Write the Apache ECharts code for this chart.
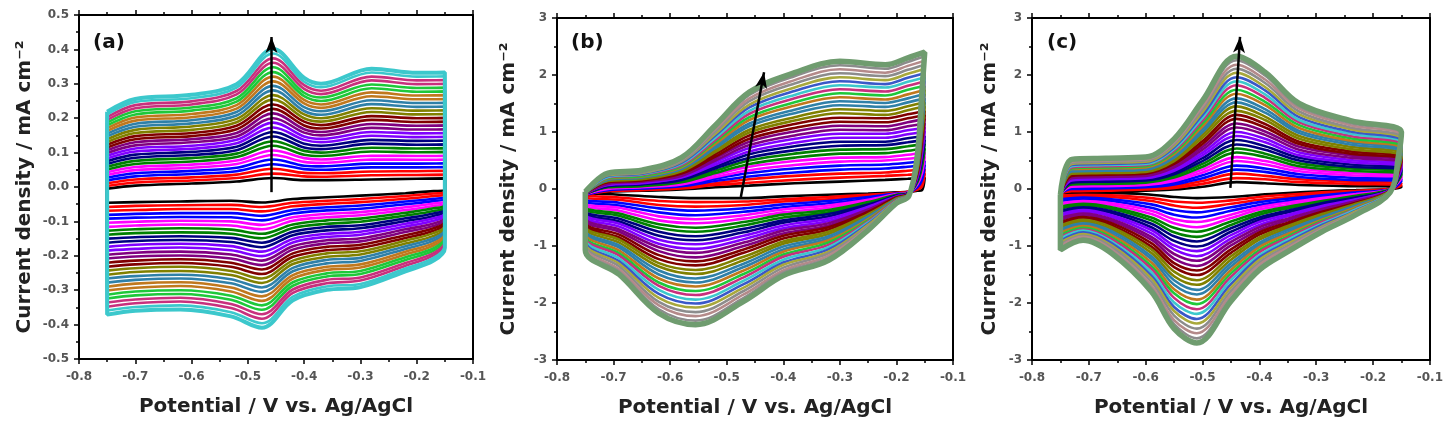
<!DOCTYPE html>
<html>
<head>
<meta charset="utf-8">
<title>CV scans</title>
<script src="https://cdn.jsdelivr.net/npm/echarts@6.0.0/dist/echarts.min.js"></script>
<style>
html, body { margin: 0; padding: 0; background: #fff; }
#chart { width: 1446px; height: 429px; }
</style>
</head>
<body>
<div id="chart"></div>
<script>
// potentials (V vs. Ag/AgCl) where the curves were read, forward and reverse sweep
// current density (mA cm-2): one inner array per potential, one value per scan (innermost -> outermost)

// ---- panel (a)
const aXUp = [-0.75, -0.70, -0.60, -0.52, -0.455, -0.40, -0.37, -0.28, -0.20, -0.15];
const aUp = [
  [-0.005,0.003,0.011,0.019,0.027,0.035,0.043,0.051,0.059,0.067,0.075,0.083,0.091,0.099,0.107,0.115,0.123,0.131,0.139,0.147,0.155,0.163,0.171,0.179,0.187,0.195,0.203,0.211,0.219],
  [0.004,0.013,0.022,0.031,0.040,0.049,0.058,0.067,0.076,0.085,0.094,0.103,0.112,0.121,0.130,0.139,0.148,0.157,0.166,0.175,0.184,0.193,0.202,0.211,0.220,0.229,0.238,0.247,0.256],
  [0.010,0.019,0.028,0.038,0.047,0.056,0.065,0.074,0.084,0.093,0.102,0.111,0.120,0.130,0.139,0.148,0.157,0.166,0.176,0.185,0.194,0.203,0.212,0.222,0.231,0.240,0.249,0.258,0.268],
  [0.016,0.026,0.036,0.046,0.056,0.067,0.077,0.087,0.097,0.107,0.117,0.127,0.137,0.147,0.157,0.168,0.178,0.188,0.198,0.208,0.218,0.228,0.238,0.248,0.258,0.269,0.279,0.289,0.299],
  [0.026,0.039,0.053,0.066,0.080,0.093,0.106,0.120,0.133,0.147,0.160,0.173,0.187,0.200,0.214,0.227,0.240,0.254,0.267,0.281,0.294,0.307,0.321,0.334,0.348,0.361,0.374,0.388,0.401],
  [0.020,0.031,0.041,0.052,0.062,0.073,0.084,0.094,0.105,0.115,0.126,0.137,0.147,0.158,0.168,0.179,0.190,0.200,0.211,0.221,0.232,0.243,0.253,0.264,0.274,0.285,0.296,0.306,0.317],
  [0.020,0.030,0.040,0.050,0.060,0.070,0.080,0.090,0.100,0.110,0.120,0.130,0.140,0.150,0.160,0.170,0.180,0.190,0.200,0.210,0.220,0.230,0.240,0.250,0.260,0.270,0.280,0.290,0.300],
  [0.022,0.034,0.045,0.057,0.068,0.080,0.091,0.103,0.114,0.126,0.137,0.149,0.160,0.172,0.183,0.195,0.206,0.218,0.229,0.241,0.252,0.264,0.275,0.287,0.298,0.310,0.321,0.333,0.344],
  [0.024,0.035,0.046,0.057,0.068,0.079,0.090,0.101,0.112,0.123,0.134,0.145,0.156,0.167,0.178,0.189,0.200,0.211,0.222,0.233,0.244,0.255,0.266,0.277,0.288,0.299,0.310,0.321,0.332],
  [0.025,0.036,0.047,0.058,0.069,0.080,0.091,0.102,0.113,0.124,0.135,0.146,0.157,0.168,0.179,0.190,0.201,0.212,0.223,0.234,0.245,0.256,0.267,0.278,0.289,0.300,0.311,0.322,0.333]
];
const aXDown = [-0.15, -0.17, -0.22, -0.30, -0.36, -0.42, -0.475, -0.53, -0.62, -0.70, -0.75];
const aDown = [
  [-0.009,-0.015,-0.021,-0.027,-0.033,-0.039,-0.045,-0.051,-0.057,-0.063,-0.069,-0.075,-0.081,-0.087,-0.093,-0.099,-0.105,-0.111,-0.117,-0.123,-0.129,-0.135,-0.141,-0.147,-0.153,-0.159,-0.165,-0.171,-0.177],
  [-0.012,-0.019,-0.026,-0.034,-0.041,-0.048,-0.055,-0.062,-0.070,-0.077,-0.084,-0.091,-0.098,-0.106,-0.113,-0.120,-0.127,-0.134,-0.142,-0.149,-0.156,-0.163,-0.170,-0.178,-0.185,-0.192,-0.199,-0.206,-0.214],
  [-0.018,-0.026,-0.034,-0.042,-0.050,-0.059,-0.067,-0.075,-0.083,-0.091,-0.099,-0.107,-0.115,-0.123,-0.131,-0.140,-0.148,-0.156,-0.164,-0.172,-0.180,-0.188,-0.196,-0.204,-0.212,-0.221,-0.229,-0.237,-0.245],
  [-0.025,-0.035,-0.044,-0.054,-0.063,-0.073,-0.082,-0.092,-0.101,-0.111,-0.120,-0.130,-0.139,-0.149,-0.158,-0.168,-0.177,-0.187,-0.196,-0.206,-0.215,-0.225,-0.234,-0.244,-0.253,-0.263,-0.272,-0.282,-0.291],
  [-0.030,-0.040,-0.049,-0.059,-0.068,-0.078,-0.088,-0.097,-0.107,-0.116,-0.126,-0.136,-0.145,-0.155,-0.164,-0.174,-0.184,-0.193,-0.203,-0.212,-0.222,-0.232,-0.241,-0.251,-0.260,-0.270,-0.280,-0.289,-0.299],
  [-0.035,-0.046,-0.056,-0.067,-0.077,-0.088,-0.098,-0.109,-0.119,-0.130,-0.140,-0.151,-0.161,-0.172,-0.182,-0.193,-0.203,-0.214,-0.224,-0.235,-0.245,-0.256,-0.266,-0.277,-0.287,-0.298,-0.308,-0.319,-0.329],
  [-0.045,-0.058,-0.071,-0.084,-0.097,-0.110,-0.123,-0.136,-0.149,-0.162,-0.175,-0.188,-0.201,-0.214,-0.227,-0.240,-0.253,-0.266,-0.279,-0.292,-0.305,-0.318,-0.331,-0.344,-0.357,-0.370,-0.383,-0.396,-0.409],
  [-0.040,-0.052,-0.064,-0.076,-0.088,-0.100,-0.112,-0.124,-0.136,-0.148,-0.160,-0.172,-0.184,-0.196,-0.208,-0.220,-0.232,-0.244,-0.256,-0.268,-0.280,-0.292,-0.304,-0.316,-0.328,-0.340,-0.352,-0.364,-0.376],
  [-0.042,-0.053,-0.064,-0.076,-0.087,-0.098,-0.109,-0.120,-0.132,-0.143,-0.154,-0.165,-0.176,-0.188,-0.199,-0.210,-0.221,-0.232,-0.244,-0.255,-0.266,-0.277,-0.288,-0.300,-0.311,-0.322,-0.333,-0.344,-0.356],
  [-0.044,-0.055,-0.067,-0.078,-0.089,-0.101,-0.112,-0.123,-0.134,-0.146,-0.157,-0.168,-0.180,-0.191,-0.202,-0.214,-0.225,-0.236,-0.247,-0.259,-0.270,-0.281,-0.293,-0.304,-0.315,-0.327,-0.338,-0.349,-0.360],
  [-0.046,-0.058,-0.069,-0.081,-0.092,-0.104,-0.116,-0.127,-0.139,-0.150,-0.162,-0.174,-0.185,-0.197,-0.208,-0.220,-0.232,-0.243,-0.255,-0.266,-0.278,-0.290,-0.301,-0.313,-0.324,-0.336,-0.348,-0.359,-0.371]
];
const aColors = ['black','red','red','blue','blue','magenta','magenta','green','green','navy','navy','violet','violet','purple','purple','wine','wine','olive','olive','teal','teal','orange','orange','lime','lime','pink','pink','cyan','cyan'];
const aArrow = [[-0.458, -0.015], [-0.458, 0.436]];

// ---- panel (b)
const bXUp = [-0.75, -0.71, -0.65, -0.58, -0.52, -0.46, -0.38, -0.30, -0.22, -0.18, -0.15];
const bUp = [
  [-0.10,-0.10,-0.10,-0.10,-0.09,-0.09,-0.09,-0.09,-0.09,-0.08,-0.08,-0.08,-0.08,-0.08,-0.08,-0.07,-0.07,-0.07,-0.07,-0.07,-0.07,-0.06,-0.06,-0.06,-0.06,-0.06,-0.06,-0.05,-0.05,-0.05,-0.05],
  [-0.05,-0.04,-0.03,-0.02,-0.01,0.00,0.02,0.03,0.04,0.05,0.06,0.07,0.08,0.09,0.10,0.12,0.13,0.14,0.15,0.16,0.17,0.18,0.19,0.20,0.21,0.23,0.24,0.25,0.26,0.27,0.28],
  [-0.03,-0.02,-0.01,0.01,0.02,0.03,0.04,0.05,0.07,0.08,0.09,0.10,0.11,0.13,0.14,0.15,0.16,0.17,0.19,0.20,0.21,0.22,0.23,0.25,0.26,0.27,0.28,0.29,0.31,0.32,0.33],
  [-0.01,0.01,0.03,0.05,0.06,0.08,0.10,0.12,0.14,0.16,0.18,0.20,0.21,0.23,0.25,0.27,0.29,0.31,0.33,0.35,0.36,0.38,0.40,0.42,0.44,0.46,0.48,0.49,0.51,0.53,0.55],
  [0.03,0.07,0.10,0.14,0.18,0.21,0.25,0.28,0.32,0.36,0.39,0.43,0.47,0.50,0.54,0.57,0.61,0.65,0.68,0.72,0.76,0.79,0.83,0.86,0.90,0.94,0.97,1.01,1.05,1.08,1.12],
  [0.06,0.11,0.17,0.22,0.28,0.33,0.39,0.44,0.50,0.55,0.61,0.66,0.72,0.77,0.83,0.88,0.94,0.99,1.04,1.10,1.15,1.21,1.26,1.32,1.37,1.43,1.48,1.54,1.59,1.65,1.70],
  [0.10,0.16,0.23,0.29,0.36,0.42,0.49,0.55,0.62,0.68,0.75,0.81,0.88,0.94,1.01,1.07,1.14,1.20,1.26,1.33,1.39,1.46,1.52,1.59,1.65,1.72,1.78,1.85,1.91,1.98,2.04],
  [0.13,0.20,0.27,0.34,0.41,0.48,0.55,0.62,0.69,0.76,0.83,0.90,0.97,1.04,1.11,1.18,1.25,1.33,1.40,1.47,1.54,1.61,1.68,1.75,1.82,1.89,1.96,2.03,2.10,2.17,2.24],
  [0.16,0.23,0.29,0.36,0.43,0.50,0.56,0.63,0.70,0.77,0.83,0.90,0.97,1.03,1.10,1.17,1.24,1.30,1.37,1.44,1.51,1.57,1.64,1.71,1.78,1.84,1.91,1.98,2.04,2.11,2.18],
  [0.18,0.25,0.32,0.39,0.46,0.53,0.60,0.67,0.75,0.82,0.89,0.96,1.03,1.10,1.17,1.24,1.31,1.38,1.45,1.52,1.59,1.66,1.74,1.81,1.88,1.95,2.02,2.09,2.16,2.23,2.30],
  [0.20,0.27,0.35,0.42,0.49,0.57,0.64,0.71,0.79,0.86,0.93,1.01,1.08,1.15,1.23,1.30,1.37,1.45,1.52,1.59,1.67,1.74,1.81,1.89,1.96,2.03,2.11,2.18,2.25,2.33,2.40]
];
const bXDown = [-0.155, -0.163, -0.178, -0.20, -0.25, -0.32, -0.40, -0.47, -0.555, -0.62, -0.69, -0.75];
const bDown = [
  [-0.02,0.04,0.09,0.15,0.21,0.27,0.32,0.38,0.44,0.50,0.55,0.61,0.67,0.72,0.78,0.84,0.90,0.95,1.01,1.07,1.13,1.18,1.24,1.30,1.36,1.41,1.47,1.53,1.58,1.64,1.70],
  [-0.03,-0.01,0.01,0.03,0.05,0.08,0.10,0.12,0.14,0.16,0.18,0.20,0.22,0.24,0.26,0.29,0.31,0.33,0.35,0.37,0.39,0.41,0.43,0.45,0.47,0.50,0.52,0.54,0.56,0.58,0.60],
  [-0.05,-0.05,-0.05,-0.06,-0.06,-0.06,-0.06,-0.07,-0.07,-0.07,-0.07,-0.08,-0.08,-0.08,-0.08,-0.08,-0.09,-0.09,-0.09,-0.09,-0.10,-0.10,-0.10,-0.10,-0.11,-0.11,-0.11,-0.11,-0.11,-0.12,-0.12],
  [-0.06,-0.07,-0.07,-0.08,-0.09,-0.09,-0.10,-0.10,-0.11,-0.12,-0.12,-0.13,-0.14,-0.14,-0.15,-0.15,-0.16,-0.17,-0.17,-0.18,-0.19,-0.19,-0.20,-0.20,-0.21,-0.22,-0.22,-0.23,-0.24,-0.24,-0.25],
  [-0.08,-0.10,-0.12,-0.14,-0.17,-0.19,-0.21,-0.23,-0.25,-0.27,-0.29,-0.31,-0.34,-0.36,-0.38,-0.40,-0.42,-0.44,-0.46,-0.48,-0.51,-0.53,-0.55,-0.57,-0.59,-0.61,-0.63,-0.66,-0.68,-0.70,-0.72],
  [-0.10,-0.14,-0.18,-0.21,-0.25,-0.29,-0.33,-0.37,-0.41,-0.44,-0.48,-0.52,-0.56,-0.60,-0.64,-0.67,-0.71,-0.75,-0.79,-0.83,-0.87,-0.90,-0.94,-0.98,-1.02,-1.06,-1.10,-1.13,-1.17,-1.21,-1.25],
  [-0.13,-0.18,-0.22,-0.27,-0.32,-0.36,-0.41,-0.45,-0.50,-0.55,-0.59,-0.64,-0.69,-0.73,-0.78,-0.82,-0.87,-0.92,-0.96,-1.01,-1.06,-1.10,-1.15,-1.19,-1.24,-1.29,-1.33,-1.38,-1.43,-1.47,-1.52],
  [-0.16,-0.22,-0.28,-0.34,-0.40,-0.46,-0.52,-0.58,-0.64,-0.70,-0.76,-0.82,-0.88,-0.94,-1.00,-1.06,-1.12,-1.19,-1.25,-1.31,-1.37,-1.43,-1.49,-1.55,-1.61,-1.67,-1.73,-1.79,-1.85,-1.91,-1.97],
  [-0.16,-0.23,-0.31,-0.38,-0.46,-0.53,-0.60,-0.68,-0.75,-0.83,-0.90,-0.97,-1.05,-1.12,-1.20,-1.27,-1.34,-1.42,-1.49,-1.57,-1.64,-1.71,-1.79,-1.86,-1.94,-2.01,-2.08,-2.16,-2.23,-2.31,-2.38],
  [-0.14,-0.21,-0.28,-0.34,-0.41,-0.48,-0.55,-0.62,-0.68,-0.75,-0.82,-0.89,-0.96,-1.02,-1.09,-1.16,-1.23,-1.30,-1.36,-1.43,-1.50,-1.57,-1.64,-1.70,-1.77,-1.84,-1.91,-1.98,-2.04,-2.11,-2.18],
  [-0.10,-0.15,-0.19,-0.24,-0.29,-0.33,-0.38,-0.43,-0.47,-0.52,-0.57,-0.61,-0.66,-0.71,-0.75,-0.80,-0.85,-0.89,-0.94,-0.99,-1.03,-1.08,-1.13,-1.17,-1.22,-1.27,-1.31,-1.36,-1.41,-1.45,-1.50],
  [-0.08,-0.11,-0.15,-0.18,-0.21,-0.25,-0.28,-0.31,-0.34,-0.38,-0.41,-0.44,-0.48,-0.51,-0.54,-0.58,-0.61,-0.64,-0.67,-0.71,-0.74,-0.77,-0.81,-0.84,-0.87,-0.91,-0.94,-0.97,-1.00,-1.04,-1.07]
];
const bColors = ['black','red','red','blue','blue','magenta','magenta','green','green','navy','navy','violet','violet','purple','purple','wine','wine','olive','olive','teal','teal','orange','lime','pink','cyan','royal','khaki','gray','rose','gray','sage'];
const bArrow = [[-0.475, -0.14], [-0.434, 2.05]];

// ---- panel (c)
const cXUp = [-0.75, -0.73, -0.67, -0.60, -0.55, -0.50, -0.44, -0.39, -0.33, -0.24, -0.15];
const cUp = [
  [-0.07,-0.07,-0.07,-0.07,-0.07,-0.08,-0.08,-0.08,-0.08,-0.08,-0.08,-0.08,-0.08,-0.08,-0.08,-0.09,-0.09,-0.09,-0.09,-0.09,-0.09,-0.09,-0.09,-0.09,-0.09,-0.10,-0.10,-0.10,-0.10,-0.10,-0.10],
  [-0.06,-0.04,-0.02,0.00,0.02,0.04,0.06,0.08,0.09,0.11,0.13,0.15,0.17,0.19,0.21,0.23,0.25,0.27,0.29,0.31,0.33,0.35,0.36,0.38,0.40,0.42,0.44,0.46,0.48,0.50,0.52],
  [-0.05,-0.03,-0.01,0.01,0.03,0.05,0.07,0.09,0.11,0.13,0.15,0.17,0.19,0.21,0.23,0.25,0.27,0.28,0.30,0.32,0.34,0.36,0.38,0.40,0.42,0.44,0.46,0.48,0.50,0.52,0.54],
  [-0.03,-0.01,0.01,0.03,0.05,0.07,0.09,0.11,0.13,0.15,0.17,0.19,0.21,0.23,0.25,0.27,0.29,0.30,0.32,0.34,0.36,0.38,0.40,0.42,0.44,0.46,0.48,0.50,0.52,0.54,0.56],
  [-0.01,0.02,0.05,0.08,0.11,0.14,0.17,0.20,0.23,0.26,0.29,0.32,0.35,0.38,0.41,0.44,0.47,0.49,0.52,0.55,0.58,0.61,0.64,0.67,0.70,0.73,0.76,0.79,0.82,0.85,0.88],
  [0.04,0.09,0.14,0.19,0.24,0.29,0.34,0.39,0.44,0.49,0.54,0.59,0.64,0.69,0.74,0.79,0.84,0.90,0.95,1.00,1.05,1.10,1.15,1.20,1.25,1.30,1.35,1.40,1.45,1.50,1.55],
  [0.12,0.19,0.27,0.34,0.41,0.49,0.56,0.64,0.71,0.78,0.86,0.93,1.00,1.08,1.15,1.23,1.30,1.37,1.45,1.52,1.59,1.67,1.74,1.82,1.89,1.96,2.04,2.11,2.18,2.26,2.33],
  [0.10,0.17,0.23,0.30,0.36,0.43,0.49,0.56,0.62,0.69,0.75,0.82,0.88,0.95,1.01,1.08,1.14,1.21,1.27,1.34,1.40,1.47,1.53,1.60,1.66,1.73,1.79,1.86,1.92,1.99,2.05],
  [0.07,0.12,0.17,0.21,0.26,0.31,0.36,0.40,0.45,0.50,0.55,0.59,0.64,0.69,0.74,0.79,0.83,0.88,0.93,0.98,1.02,1.07,1.12,1.17,1.21,1.26,1.31,1.36,1.41,1.45,1.50],
  [0.05,0.09,0.13,0.16,0.20,0.24,0.28,0.32,0.36,0.39,0.43,0.47,0.51,0.55,0.59,0.62,0.66,0.70,0.74,0.78,0.82,0.85,0.89,0.93,0.97,1.01,1.05,1.08,1.12,1.16,1.20],
  [0.04,0.07,0.10,0.14,0.17,0.20,0.23,0.26,0.30,0.33,0.36,0.39,0.42,0.46,0.49,0.52,0.55,0.58,0.62,0.65,0.68,0.71,0.74,0.78,0.81,0.84,0.87,0.90,0.94,0.97,1.00]
];
const cXDown = [-0.155, -0.17, -0.23, -0.29, -0.35, -0.40, -0.45, -0.51, -0.55, -0.59, -0.66, -0.71, -0.75];
const cDown = [
  [0.02,0.04,0.06,0.08,0.10,0.12,0.14,0.16,0.17,0.19,0.21,0.23,0.25,0.27,0.29,0.31,0.33,0.35,0.37,0.39,0.41,0.43,0.44,0.46,0.48,0.50,0.52,0.54,0.56,0.58,0.60],
  [0.00,0.00,0.00,-0.01,-0.01,-0.01,-0.01,-0.01,-0.02,-0.02,-0.02,-0.02,-0.02,-0.03,-0.03,-0.03,-0.03,-0.03,-0.04,-0.04,-0.04,-0.04,-0.04,-0.05,-0.05,-0.05,-0.05,-0.05,-0.06,-0.06,-0.06],
  [-0.02,-0.03,-0.05,-0.06,-0.08,-0.09,-0.11,-0.12,-0.13,-0.15,-0.16,-0.18,-0.19,-0.21,-0.22,-0.24,-0.25,-0.26,-0.28,-0.29,-0.31,-0.32,-0.34,-0.35,-0.36,-0.38,-0.39,-0.41,-0.42,-0.44,-0.45],
  [-0.04,-0.06,-0.09,-0.11,-0.13,-0.16,-0.18,-0.21,-0.23,-0.25,-0.28,-0.30,-0.32,-0.35,-0.37,-0.40,-0.42,-0.44,-0.47,-0.49,-0.51,-0.54,-0.56,-0.58,-0.61,-0.63,-0.66,-0.68,-0.70,-0.73,-0.75],
  [-0.07,-0.10,-0.14,-0.17,-0.21,-0.24,-0.28,-0.31,-0.34,-0.38,-0.41,-0.45,-0.48,-0.52,-0.55,-0.59,-0.62,-0.65,-0.69,-0.72,-0.76,-0.79,-0.83,-0.86,-0.89,-0.93,-0.96,-1.00,-1.03,-1.07,-1.10],
  [-0.10,-0.14,-0.19,-0.23,-0.28,-0.32,-0.36,-0.41,-0.45,-0.50,-0.54,-0.58,-0.63,-0.67,-0.72,-0.76,-0.80,-0.85,-0.89,-0.94,-0.98,-1.02,-1.07,-1.11,-1.16,-1.20,-1.24,-1.29,-1.33,-1.38,-1.42],
  [-0.14,-0.20,-0.26,-0.32,-0.38,-0.45,-0.51,-0.57,-0.63,-0.69,-0.75,-0.81,-0.87,-0.93,-0.99,-1.06,-1.12,-1.18,-1.24,-1.30,-1.36,-1.42,-1.48,-1.54,-1.60,-1.67,-1.73,-1.79,-1.85,-1.91,-1.97],
  [-0.16,-0.24,-0.33,-0.41,-0.50,-0.58,-0.67,-0.75,-0.84,-0.92,-1.01,-1.09,-1.18,-1.26,-1.35,-1.43,-1.51,-1.60,-1.68,-1.77,-1.85,-1.94,-2.02,-2.11,-2.19,-2.28,-2.36,-2.45,-2.53,-2.62,-2.70],
  [-0.14,-0.22,-0.29,-0.37,-0.45,-0.53,-0.60,-0.68,-0.76,-0.83,-0.91,-0.99,-1.06,-1.14,-1.22,-1.30,-1.37,-1.45,-1.53,-1.60,-1.68,-1.76,-1.83,-1.91,-1.99,-2.07,-2.14,-2.22,-2.30,-2.37,-2.45],
  [-0.10,-0.16,-0.21,-0.27,-0.33,-0.38,-0.44,-0.50,-0.55,-0.61,-0.67,-0.72,-0.78,-0.84,-0.89,-0.95,-1.01,-1.06,-1.12,-1.18,-1.23,-1.29,-1.35,-1.40,-1.46,-1.52,-1.57,-1.63,-1.69,-1.74,-1.80],
  [-0.07,-0.11,-0.14,-0.18,-0.21,-0.25,-0.28,-0.32,-0.35,-0.39,-0.42,-0.46,-0.49,-0.53,-0.56,-0.60,-0.64,-0.67,-0.71,-0.74,-0.78,-0.81,-0.85,-0.88,-0.92,-0.95,-0.99,-1.02,-1.06,-1.09,-1.13],
  [-0.07,-0.10,-0.13,-0.15,-0.18,-0.21,-0.24,-0.26,-0.29,-0.32,-0.35,-0.37,-0.40,-0.43,-0.46,-0.49,-0.51,-0.54,-0.57,-0.60,-0.62,-0.65,-0.68,-0.71,-0.73,-0.76,-0.79,-0.82,-0.84,-0.87,-0.90],
  [-0.08,-0.11,-0.15,-0.18,-0.21,-0.25,-0.28,-0.31,-0.34,-0.38,-0.41,-0.44,-0.48,-0.51,-0.54,-0.58,-0.61,-0.64,-0.67,-0.71,-0.74,-0.77,-0.81,-0.84,-0.87,-0.91,-0.94,-0.97,-1.00,-1.04,-1.07]
];
const cColors = bColors;
const cArrow = [[-0.451, 0.02], [-0.434, 2.67]];

const xTicks = [-0.8, -0.1, 0.1];      // min, max, step of the potential axis
const yTicksA = [-0.5, 0.5, 0.1];
const yTicksBC = [-3, 3, 1];

// Origin-like colour list
const palette = {
  black: '#000000', red: '#ff0000', blue: '#0000ff', magenta: '#ff00ff', green: '#008000',
  navy: '#000080', violet: '#8000ff', purple: '#800080', wine: '#800000', olive: '#808000',
  teal: '#2f80a8', orange: '#c0781e', lime: '#1ec83a', pink: '#c8307d', cyan: '#3cc8cc',
  royal: '#3a58c8', khaki: '#a8a83c', gray: '#8c8c8c', rose: '#b48a8a', sage: '#6f9c6f'
};

const font = 'DejaVu Sans';
const grids = [
  { left: 79, top: 15, width: 394, height: 344 },
  { left: 557, top: 18, width: 396, height: 342 },
  { left: 1032, top: 18, width: 400, height: 342 }
];
const yNameGap = [44, 38, 32];

let myChart = echarts.init(document.getElementById('chart'));

function makeXAxes(p) {
  const base = {
    type: 'value', gridIndex: p, min: xTicks[0], max: xTicks[1], interval: xTicks[2],
    axisLine: { onZero: false, lineStyle: { color: '#000', width: 2 } },
    axisTick: { length: 5, lineStyle: { color: '#000', width: 1.5 } },
    minorTick: { show: true, splitNumber: 2, length: 3, lineStyle: { color: '#000', width: 1.5 } },
    splitLine: { show: false }
  };
  return [
    Object.assign({}, base, {
      position: 'bottom',
      axisLabel: { color: '#555', fontFamily: font, fontWeight: 'bold', fontSize: 12, margin: 12,
        formatter: v => v.toFixed(1) },
      name: 'Potential / V vs. Ag/AgCl', nameLocation: 'middle', nameGap: 38,
      nameTextStyle: { color: '#222', fontFamily: font, fontWeight: 'bold', fontSize: 20 }
    }),
    Object.assign({}, base, { position: 'top', axisLabel: { show: false } })
  ];
}

function makeYAxes(p) {
  const t = p === 0 ? yTicksA : yTicksBC;
  return [
    {
      type: 'value', gridIndex: p, position: 'left', min: t[0], max: t[1], interval: t[2],
      axisLine: { onZero: false, lineStyle: { color: '#000', width: 2 } },
      axisTick: { length: 5, lineStyle: { color: '#000', width: 1.5 } },
      minorTick: { show: true, splitNumber: 2, length: 3, lineStyle: { color: '#000', width: 1.5 } },
      splitLine: { show: false },
      axisLabel: { color: '#555', fontFamily: font, fontWeight: 'bold', fontSize: 12, margin: 10,
        formatter: v => (p === 0 ? v.toFixed(1) : String(Math.round(v))) },
      name: 'Current density / mA cm\u207B\u00B2', nameLocation: 'middle', nameGap: yNameGap[p],
      nameTextStyle: { color: '#222', fontFamily: font, fontWeight: 'bold', fontSize: 20 }
    },
    {
      type: 'value', gridIndex: p, position: 'right', min: t[0], max: t[1], interval: t[2],
      axisLine: { onZero: false, lineStyle: { color: '#000', width: 2 } },
      axisTick: { show: false }, axisLabel: { show: false }, splitLine: { show: false }
    }
  ];
}

// one closed loop per scan: forward sweep then reverse sweep
function cycles(p, xUp, up, xDown, down, colors, outerWidth) {
  const list = [];
  const n = colors.length;
  for (let i = 0; i < n; i++) {
    const pick = col => (col[i] !== undefined ? col[i] : col[col.length - 1]);
    const pts = xUp.map((x, k) => [x, pick(up[k])])
      .concat(xDown.map((x, k) => [x, pick(down[k])]));
    pts.push(pts[0]);
    list.push({
      type: 'line', xAxisIndex: 2 * p, yAxisIndex: 2 * p,
      data: pts, showSymbol: false, smooth: 0.35, silent: true,
      lineStyle: { color: palette[colors[i]], width: i === n - 1 ? outerWidth : 2.6 },
      z: 2
    });
  }
  return list;
}

function arrow(p, pts) {
  return {
    type: 'line', xAxisIndex: 2 * p, yAxisIndex: 2 * p, data: [], z: 5,
    markLine: {
      silent: true, animation: false, symbol: ['none', 'arrow'], symbolSize: [9, 16],
      label: { show: false },
      lineStyle: { color: '#000', width: 2.5, type: 'solid' },
      data: [[{ coord: pts[0] }, { coord: pts[1] }]]
    }
  };
}

const panelTag = { fontFamily: font, fontWeight: 'bold', fontSize: 20, color: '#111' };

myChart.setOption({
  backgroundColor: '#fff',
  animation: false,
  title: [
    { text: '(a)', left: 93, top: 33, padding: 0, textStyle: panelTag },
    { text: '(b)', left: 571, top: 33, padding: 0, textStyle: panelTag },
    { text: '(c)', left: 1047, top: 33, padding: 0, textStyle: panelTag }
  ],
  grid: grids,
  xAxis: [].concat(makeXAxes(0), makeXAxes(1), makeXAxes(2)),
  yAxis: [].concat(makeYAxes(0), makeYAxes(1), makeYAxes(2)),
  series: [].concat(
    cycles(0, aXUp, aUp, aXDown, aDown, aColors, 4),
    cycles(1, bXUp, bUp, bXDown, bDown, bColors, 5.5),
    cycles(2, cXUp, cUp, cXDown, cDown, cColors, 5.5),
    [arrow(0, aArrow), arrow(1, bArrow), arrow(2, cArrow)]
  )
});
</script>
</body>
</html>
